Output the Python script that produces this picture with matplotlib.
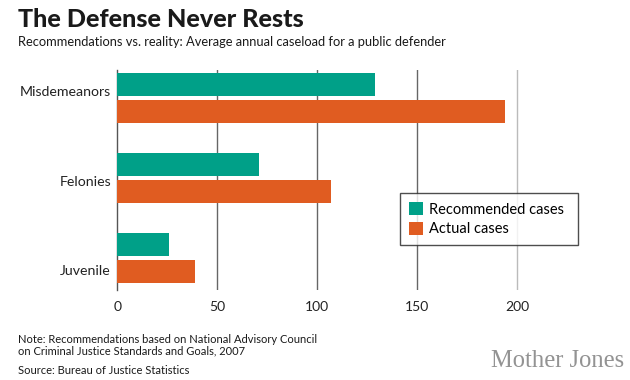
import matplotlib.pyplot as plt
from matplotlib import font_manager
import numpy as np

categories = ["Misdemeanors", "Felonies", "Juvenile"]
recommended = [129, 71, 26]
actual = [194, 107, 39]
xticks = [0, 50, 100, 150, 200]

TEAL = "#00a088"
ORANGE = "#e05c21"
FONT = "Lato"


def pick_font(names):
    for n in names:
        try:
            font_manager.findfont(n, fallback_to_default=False)
            return n
        except Exception:
            pass
    return "DejaVu Sans"


def fit_width(fig, txt, width_px):
    # shrink/grow the font so the text spans roughly the reference width
    fig.canvas.draw()
    w = txt.get_window_extent().width
    txt.set_fontsize(txt.get_fontsize() * width_px / w)


def main():
    narrow = pick_font(["Liberation Sans Narrow", "DejaVu Sans Condensed", "Lato"])

    fig = plt.figure(figsize=(6.3, 3.8), dpi=100)
    ax = fig.add_axes([117.3 / 630, 1 - 290 / 380, 460 / 630, 220 / 380])

    y = np.arange(len(categories))
    h = 0.2875
    off = 0.169
    ax.barh(y - off, recommended, height=h, color=TEAL, label="Recommended cases", zorder=3)
    ax.barh(y + off, actual, height=h, color=ORANGE, label="Actual cases", zorder=3)

    ax.set_xlim(0, 230)
    ax.set_ylim(2.404, -0.35)

    # gridlines
    for t in xticks[1:]:
        c = "#bbbbbb" if t == 200 else "#666666"
        ax.axvline(t, color=c, lw=1, zorder=1)

    for s in ["top", "right", "bottom"]:
        ax.spines[s].set_visible(False)
    ax.spines["left"].set_color("#555555")
    ax.spines["left"].set_linewidth(1)

    ax.set_xticks(xticks)
    ax.set_xticklabels([str(t) for t in xticks], fontsize=10, family=FONT, color="#222222")
    ax.tick_params(axis="x", length=0, pad=8)

    # category labels sit a bit off the bar pairs
    label_off = [-0.085, 0.04, 0.155]
    ax.set_yticks(y + np.array(label_off))
    ax.set_yticklabels(categories, fontsize=10.2, family=FONT, color="#222222")
    ax.tick_params(axis="y", length=0, pad=4.5)

    leg = ax.legend(
        loc="center left",
        bbox_to_anchor=(400 / 630, 1 - 246.7 / 380, 178 / 630, 55 / 380),
        bbox_transform=fig.transFigure,
        mode="expand",
        fancybox=False,
        frameon=True,
        handlelength=1.0,
        handleheight=1.0,
        handletextpad=0.4,
        borderpad=0.6,
        labelspacing=0.35,
        borderaxespad=0,
        prop={"family": FONT, "size": 10.5},
    )
    leg.get_frame().set_edgecolor("#222222")
    leg.get_frame().set_linewidth(1)

    title = fig.text(18 / 630, 1 - 27 / 380, "The Defense Never Rests", fontsize=19,
                     fontweight="black", family=narrow, va="baseline", color="#1a1a1a")
    sub = fig.text(18 / 630, 1 - 45.5 / 380,
                   "Recommendations vs. reality: Average annual caseload for a public defender",
                   fontsize=9.5, family=FONT, va="baseline", color="#1a1a1a")
    fit_width(fig, title, 285)
    fit_width(fig, sub, 432)

    fig.text(18 / 630, 1 - 345 / 380,
             "Note: Recommendations based on National Advisory Council\n"
             "on Criminal Justice Standards and Goals, 2007",
             fontsize=8, family=FONT, va="center", linespacing=1.05, color="#1a1a1a")
    fig.text(18 / 630, 1 - 370 / 380, "Source: Bureau of Justice Statistics",
             fontsize=8, family=FONT, va="center", color="#1a1a1a")
    mj = fig.text(624 / 630, 1 - 367.3 / 380, "Mother Jones", fontsize=14,
                  family="Liberation Serif", color="#939393", ha="right", va="baseline")
    fit_width(fig, mj, 134)

    fig.savefig("out.png", dpi=100)
    plt.close(fig)


if __name__ == "__main__":
    main()
